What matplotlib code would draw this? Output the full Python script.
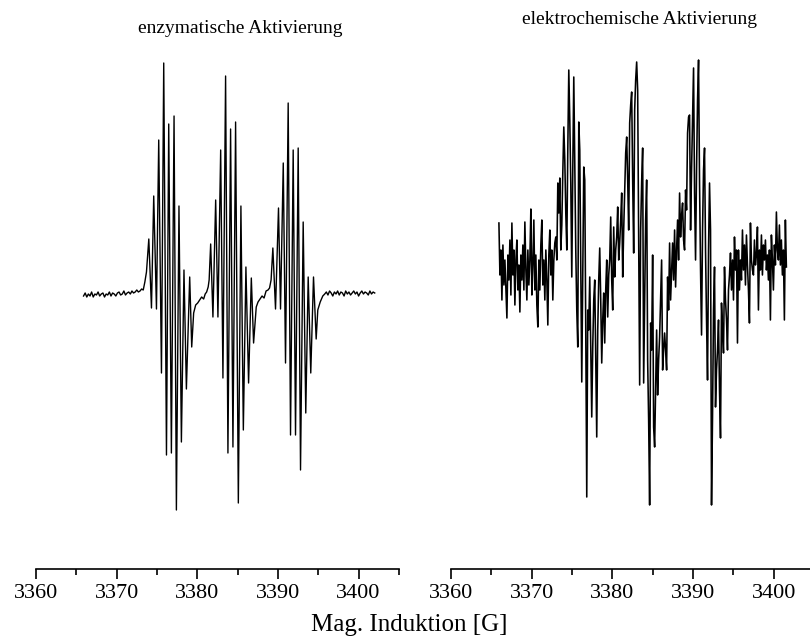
import numpy as np
import matplotlib.pyplot as plt
from matplotlib.ticker import MultipleLocator

plt.rcParams['font.family'] = ['Liberation Serif', 'DejaVu Serif']

# enzymatische Aktivierung: field [G] / signal [a.u.]
enz_field = [
    3365.9, 3366.1, 3366.3, 3366.5, 3366.7, 3366.9, 3367.1, 3367.3, 3367.5, 3367.7,
    3367.9, 3368.1, 3368.3, 3368.5, 3368.7, 3368.9, 3369.1, 3369.3, 3369.5, 3369.7,
    3369.9, 3370.1, 3370.3, 3370.5, 3370.7, 3370.9, 3371.1, 3371.3, 3371.5, 3371.7,
    3371.9, 3372.1, 3372.3, 3372.5, 3372.7, 3372.9, 3373.1, 3373.3, 3373.5, 3373.7,
    3373.99, 3374.32, 3374.60, 3374.94, 3375.22, 3375.56, 3375.84, 3376.18, 3376.46, 3376.79,
    3377.12, 3377.41, 3377.73, 3378.03, 3378.35, 3378.65, 3379.06, 3379.31,
    3379.55, 3379.80, 3380.05, 3380.30, 3380.54, 3380.79, 3380.98, 3381.16, 3381.35, 3381.47,
    3381.66, 3381.94, 3382.28, 3382.56, 3382.90, 3383.18, 3383.51, 3383.80, 3384.13, 3384.42,
    3384.75, 3385.09, 3385.41, 3385.71, 3386.03, 3386.36, 3386.70, 3386.98,
    3387.31, 3387.53, 3387.78, 3388.03, 3388.28, 3388.53, 3388.77, 3388.96, 3389.15,
    3389.37, 3389.70, 3390.07, 3390.32, 3390.66, 3390.94, 3391.27, 3391.56, 3391.89, 3392.18,
    3392.51, 3392.80, 3393.13, 3393.45, 3393.75, 3394.07, 3394.41, 3394.74,
    3394.94, 3395.24, 3395.56,
    3395.8, 3396.0, 3396.2, 3396.4, 3396.6, 3396.8, 3397.0, 3397.2, 3397.4, 3397.6,
    3397.8, 3398.0, 3398.2, 3398.4, 3398.6, 3398.8, 3399.0, 3399.2, 3399.4, 3399.6,
    3399.8, 3400.0, 3400.2, 3400.4, 3400.6, 3400.8, 3401.0, 3401.2, 3401.4, 3401.6,
    3401.8, 3402.0,
]
enz_signal = [
    -2, 1, -3, 0, -2, 2, -3, 0, -1, 2,
    -2, 0, 1, -3, 0, -1, 2, -2, 1, 0,
    -2, 1, 2, -1, 0, 3, -1, 1, 2, 0,
    3, 1, 2, 4, 2, 3, 5, 4, 12, 22,
    55, -14, 98, -15, 154, -79, 231, -161, 170, -159,
    178, -216, 88, -148, 24, -95, 17, -53,
    -19, -11, -9, -6, -3, -5, 0, 2, 7, 14,
    50, -23, 94, -23, 144, -84, 218, -159, 165, -153,
    172, -209, 88, -136, 27, -89, 16, -49,
    -13, -8, -5, -2, -4, 3, 4, 6, 14,
    46, -15, 86, -15, 131, -69, 191, -141, 144, -141,
    146, -176, 72, -119, 17, -79, 17, -45,
    -16, -8, -2,
    0, 2, -1, 3, 1, -2, 2, 0, 3, -1,
    2, 1, -2, 3, 0, 2, -1, 1, 3, 0,
    2, -2, 1, 3, 0, 2, 1, -1, 3, 0,
    2, 1,
]

# elektrochemische Aktivierung: evenly swept field, signal [a.u.]
elek_start = 3365.94
elek_stop = 3401.58
elek_signal = [
    47, -5, 20, -30, 25, -15, 10, -20, -48, 15,
    -10, 30, -25, 47, -5, 20, -35, 10, 30, -20,
    5, -42, 15, -10, 25, -20, 48, 0, -30, 20,
    -15, 10, 61, -25, 5, 50, -20, 15, -35, -57,
    10, -20, 25, 50, -15, 10, -30, 20, -10, -55,
    15, 40, -5, 20, -30, 10, 27, 33, 10, 87,
    57, 92, 20, 45, 97, 143, 110, 57, 20, 120,
    200, 150, 87, -7, 100, 193, 103, 20, -40, -77,
    148, 120, 5, -112, 0, 103, 90, -60, -227, -40,
    -60, -7, -80, -147, -77, -30, -10, -90, -167, -60,
    -10, 22, -30, -93, -50, -23, -73, -20, 10, -47,
    -5, 10, 53, -10, -40, 43, -7, 20, 33, 63,
    10, 27, 50, 77, -7, 40, 77, 117, 133, 90,
    40, 147, 165, 178, 90, 17, 160, 190, 208, 180,
    30, -115, 40, 88, 122, -113, -30, 50, 90, -90,
    -150, -235, -53, -80, 15, -157, -177, -120, -60, -125,
    -90, -67, -30, 10, -100, -80, -63, -80, -100, -7,
    -40, 27, -30, 0, 27, -10, 40, -17, 20, 50,
    10, 77, 33, 55, 67, 30, 20, 80, 60, 137,
    153, 155, 40, 100, 150, 202, 77, 10, 100, 170,
    210, 87, 0, -65, 40, 100, 122, 20, -50, -110,
    20, 87, 40, -235, -147, -40, 3, -137, -100, -80,
    -50, -120, -168, -33, -60, -83, 3, -30, -50, -80,
    -20, -5, 17, -20, 10, -30, 33, 0, 20, -73,
    20, -20, 10, -10, 40, 0, 25, -15, 35, 5,
    -20, -53, 47, 10, 0, -5, 30, 5, 15, 43,
    -40, 20, 0, 35, -5, 25, 10, 30, 0, 15,
    -10, 20, -50, 35, 10, -20, 25, 5, 58, 20,
    10, 45, 5, 30, -5, 20, -50, 50, 3,
]
elek_field = np.linspace(elek_start, elek_stop, len(elek_signal))

titles = ['enzymatische Aktivierung', 'elektrochemische Aktivierung']
xlabel = 'Mag. Induktion [G]'

fig = plt.figure(figsize=(8.1, 6.42), dpi=100)
ax1 = fig.add_axes([0.0444, 0.1137, 0.4481, 0.824])
ax2 = fig.add_axes([0.5568, 0.1137, 0.4481, 0.824])

ax1.plot(enz_field, enz_signal, color='black', lw=1.0)
ax2.plot(elek_field, elek_signal, color='black', lw=1.15)

for ax in (ax1, ax2):
    ax.set_xlim(3360, 3405)
    for s in ('left', 'right', 'top'):
        ax.spines[s].set_visible(False)
    ax.spines['bottom'].set_linewidth(1.2)
    ax.set_yticks([])
    ax.xaxis.set_major_locator(MultipleLocator(10))
    ax.xaxis.set_minor_locator(MultipleLocator(5))
    ax.tick_params(axis='x', which='major', length=7, width=1.2, labelsize=16, pad=4)
    ax.tick_params(axis='x', which='minor', length=4, width=1.2)
    ax.patch.set_visible(False)

ax1.set_ylim(-275, 254)
ax2.set_ylim(-299, 230)

fig.text(0.296, 0.956, titles[0], ha='center', va='center', fontsize=14)
fig.text(0.790, 0.969, titles[1], ha='center', va='center', fontsize=14)
fig.text(0.505, 0.027, xlabel, ha='center', va='center', fontsize=18)

fig.savefig('out.png', dpi=100)
